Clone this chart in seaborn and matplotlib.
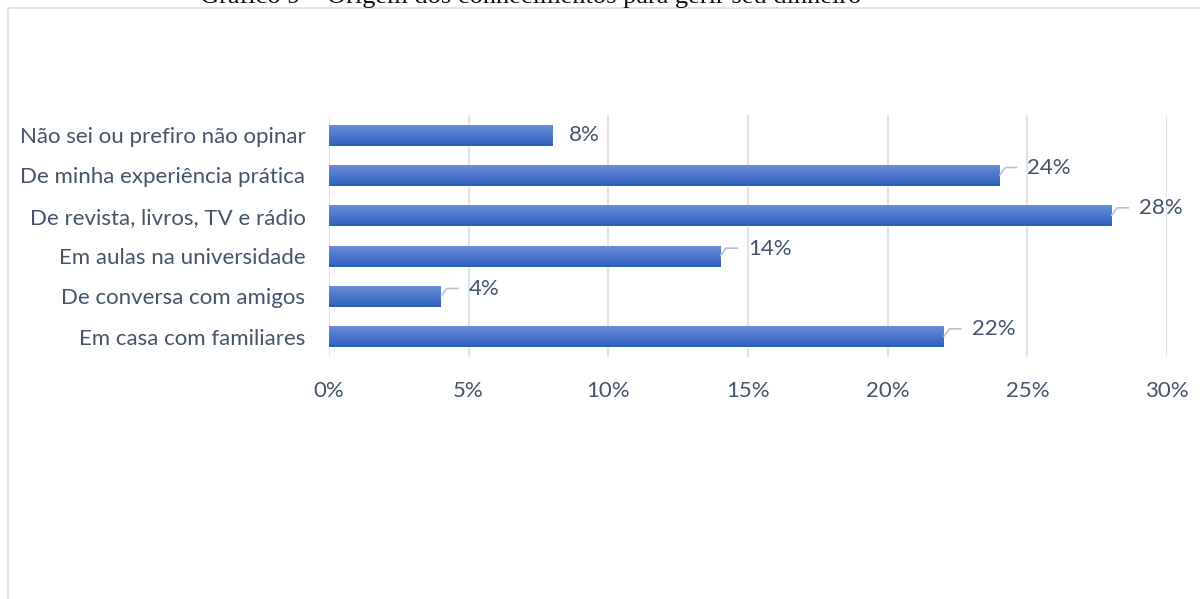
import numpy as np
import pandas as pd
import matplotlib
matplotlib.use("Agg")
import matplotlib.pyplot as plt
from matplotlib.lines import Line2D
from matplotlib.transforms import IdentityTransform
from matplotlib.colors import to_rgb
import seaborn as sns

# Survey answers: where respondents learned to manage their money
categories = [
    "Não sei ou prefiro não opinar",
    "De minha experiência prática",
    "De revista, livros, TV e rádio",
    "Em aulas na universidade",
    "De conversa com amigos",
    "Em casa com familiares",
]
shares = [8, 24, 28, 14, 4, 22]          # percent of respondents
xticks = [0, 5, 10, 15, 20, 25, 30]
title = "Gráfico 9 – Origem dos conhecimentos para gerir seu dinheiro"

sns.set_theme(style="white")
plt.rcParams["font.family"] = ["Lato", "DejaVu Sans"]

TEXT = "#44546a"
GRID = "#dfe3ea"
LEADER = "#b7c2d0"
TOP_BLUE = "#6a8dd6"
BOT_BLUE = "#2c5fbd"
FS = 16

W, H, DPI = 1200, 599, 100
fig = plt.figure(figsize=(W / DPI, H / DPI), dpi=DPI)
ax = fig.add_axes([329 / W, 1 - 357 / H, (1167 - 329) / W, (357 - 115) / H])

df = pd.DataFrame({"origem": categories, "pct": shares})
sns.barplot(data=df, y="origem", x="pct", orient="h", width=0.52,
            color=BOT_BLUE, ax=ax, saturation=1)

ax.set_xlim(0, 30)
ax.set_ylim(len(categories) - 0.5, -0.5)
ax.set_xticks(xticks)
ax.set_xticklabels([f"{t}%" for t in xticks])
ax.set_xlabel("")
ax.set_ylabel("")
ax.grid(axis="x", color=GRID, lw=1.5)
ax.grid(axis="y", visible=False)
ax.set_axisbelow(True)
for s in ax.spines.values():
    s.set_visible(False)
ax.tick_params(axis="y", length=0, pad=17, labelsize=FS, labelcolor=TEXT)
ax.tick_params(axis="x", length=0, pad=17, labelsize=FS, labelcolor=TEXT)

# Vertical gradient fill for every bar
c0, c1 = np.array(to_rgb(TOP_BLUE)), np.array(to_rgb(BOT_BLUE))
grad = np.linspace(0, 1, 64)[:, None, None]
grad_img = c0 * (1 - grad) + c1 * grad
for patch in ax.patches:
    x0, y0 = patch.get_x(), patch.get_y()
    w, h = patch.get_width(), patch.get_height()
    im = ax.imshow(grad_img, extent=(x0, x0 + w, y0 + h, y0), origin="upper",
                   aspect="auto", zorder=patch.get_zorder() + 0.1,
                   interpolation="bilinear")
    im.set_clip_path(patch)
ax.set_xlim(0, 30)
ax.set_ylim(len(categories) - 0.5, -0.5)

# Value labels, with short leader lines when the label sits above the bar end
for i, v in enumerate(shares):
    px, py = ax.transData.transform((v, i))
    if v == 8:
        fig.text(px + 16, py, f"{v}%", transform=IdentityTransform(),
                 ha="left", va="center", fontsize=FS, color=TEXT)
    else:
        fig.add_artist(Line2D([px, px + 6, px + 18], [py, py + 8, py + 8],
                              transform=IdentityTransform(), color=LEADER,
                              lw=1.2, solid_capstyle="butt"))
        fig.text(px + 28, py + 7.5, f"{v}%", transform=IdentityTransform(),
                 ha="left", va="center", fontsize=FS, color=TEXT)

# Frame and caption above it
frame_c = "#dde2e9"
fig.add_artist(Line2D([7.5 / W, 1], [1 - 7.5 / H, 1 - 7.5 / H],
                      transform=fig.transFigure, color=frame_c, lw=1.3))
fig.add_artist(Line2D([7.5 / W, 7.5 / W], [0, 1 - 7.5 / H],
                      transform=fig.transFigure, color=frame_c, lw=1.3))
fig.text(531 / W, 1 - 3.5 / H, title, ha="center", va="baseline",
         fontsize=19, color="#111111", family=["Liberation Serif", "DejaVu Serif"])

fig.savefig("out.png", dpi=DPI, facecolor="white")
